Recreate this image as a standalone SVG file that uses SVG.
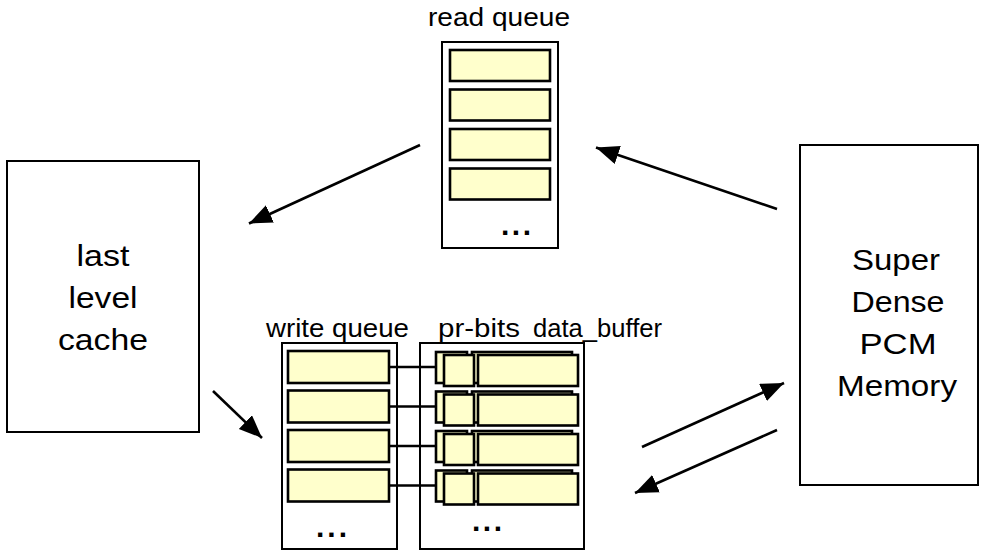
<svg xmlns="http://www.w3.org/2000/svg" width="984" height="551" viewBox="0 0 984 551">
<style>
.box{fill:#fff;stroke:#000;stroke-width:2}
.cell{fill:#ffffcc;stroke:#000;stroke-width:2.6}
.t{font-family:"Liberation Sans",Arial,sans-serif;fill:#000}
.lbl{font-size:26px}
.big{font-size:29px;text-anchor:middle}
.dots{font-size:30px;font-weight:bold}
.conn{stroke:#000;stroke-width:2.6;fill:none}
.link{stroke:#000;stroke-width:2.4;fill:none}
</style>
<defs>
<marker id="ah" markerUnits="userSpaceOnUse" markerWidth="26" markerHeight="20" refX="23" refY="9.5" orient="auto">
<path d="M0,0 L23,9.5 L0,19 z" fill="#000"/>
</marker>
</defs>

<g id="llc">
<rect class="box" x="7" y="161" width="192" height="271"/>
<text class="t big" x="103" y="266" textLength="53" lengthAdjust="spacingAndGlyphs">last</text>
<text class="t big" x="103" y="308" textLength="69" lengthAdjust="spacingAndGlyphs">level</text>
<text class="t big" x="103" y="350" textLength="90" lengthAdjust="spacingAndGlyphs">cache</text>
</g>

<g id="pcm">
<rect class="box" x="800" y="145" width="178" height="340"/>
<text class="t big" x="896" y="270" textLength="88" lengthAdjust="spacingAndGlyphs">Super</text>
<text class="t big" x="898" y="312" textLength="93" lengthAdjust="spacingAndGlyphs">Dense</text>
<text class="t big" x="898" y="354" textLength="77" lengthAdjust="spacingAndGlyphs">PCM</text>
<text class="t big" x="897" y="396" textLength="120" lengthAdjust="spacingAndGlyphs">Memory</text>
</g>

<g id="read-queue">
<text class="t lbl" x="428" y="26" textLength="142" lengthAdjust="spacingAndGlyphs">read queue</text>
<rect class="box" x="442" y="42" width="116" height="206"/>
<rect class="cell" x="450" y="50" width="100" height="31"/>
<rect class="cell" x="450" y="89.5" width="100" height="31"/>
<rect class="cell" x="450" y="129" width="100" height="31"/>
<rect class="cell" x="450" y="168.5" width="100" height="31"/>
<text class="t dots" x="501" y="235" textLength="30" lengthAdjust="spacing">...</text>
</g>

<g id="write-queue">
<text class="t lbl" x="266" y="337" textLength="143" lengthAdjust="spacingAndGlyphs">write queue</text>
<rect class="box" x="282" y="343" width="115" height="206"/>
<rect class="cell" x="288" y="351" width="101" height="32"/>
<rect class="cell" x="288" y="390.5" width="101" height="32"/>
<rect class="cell" x="288" y="430" width="101" height="32"/>
<rect class="cell" x="288" y="469.5" width="101" height="32"/>
<text class="t dots" x="316" y="537" textLength="31" lengthAdjust="spacing">...</text>
</g>

<g id="pr-bits-data-buffer">
<text class="t lbl" x="438" y="337" textLength="82" lengthAdjust="spacingAndGlyphs">pr-bits</text>
<text class="t lbl" x="533" y="337" textLength="129" lengthAdjust="spacingAndGlyphs">data_buffer</text>
<rect class="box" x="420" y="343" width="164" height="206"/>
<g id="row0">
<rect class="cell" x="436" y="352" width="31" height="31"/>
<rect class="cell" x="472" y="352" width="100" height="31"/>
<rect class="cell" x="444" y="355" width="30" height="31"/>
<rect class="cell" x="478" y="355" width="100" height="31"/>
</g>
<g id="row1" transform="translate(0,39.5)">
<rect class="cell" x="436" y="352" width="31" height="31"/>
<rect class="cell" x="472" y="352" width="100" height="31"/>
<rect class="cell" x="444" y="355" width="30" height="31"/>
<rect class="cell" x="478" y="355" width="100" height="31"/>
</g>
<g id="row2" transform="translate(0,79)">
<rect class="cell" x="436" y="352" width="31" height="31"/>
<rect class="cell" x="472" y="352" width="100" height="31"/>
<rect class="cell" x="444" y="355" width="30" height="31"/>
<rect class="cell" x="478" y="355" width="100" height="31"/>
</g>
<g id="row3" transform="translate(0,118.5)">
<rect class="cell" x="436" y="352" width="31" height="31"/>
<rect class="cell" x="472" y="352" width="100" height="31"/>
<rect class="cell" x="444" y="355" width="30" height="31"/>
<rect class="cell" x="478" y="355" width="100" height="31"/>
</g>
<text class="t dots" x="472" y="531" textLength="30" lengthAdjust="spacing">...</text>
</g>

<g id="connectors">
<line class="link" x1="389" y1="367" x2="436" y2="367"/>
<line class="link" x1="389" y1="406.5" x2="436" y2="406.5"/>
<line class="link" x1="389" y1="446" x2="436" y2="446"/>
<line class="link" x1="389" y1="485.5" x2="436" y2="485.5"/>
<line class="conn" x1="420" y1="145" x2="249" y2="223.5" marker-end="url(#ah)"/>
<line class="conn" x1="777" y1="209" x2="596" y2="147.5" marker-end="url(#ah)"/>
<line class="conn" x1="213" y1="391" x2="262" y2="438" marker-end="url(#ah)"/>
<line class="conn" x1="642" y1="447" x2="784" y2="383" marker-end="url(#ah)"/>
<line class="conn" x1="777" y1="430" x2="635" y2="493" marker-end="url(#ah)"/>
</g>
</svg>
